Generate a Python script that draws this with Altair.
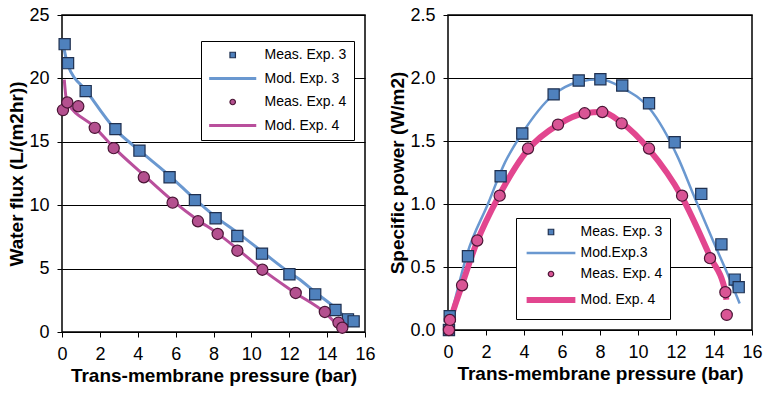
import altair as alt
import pandas as pd

# ---------------- Left panel: water flux ----------------
flux_labels = ["Meas. Exp. 3", "Mod. Exp. 3", "Meas. Exp. 4", "Mod. Exp. 4"]
flux_meas3_x = [0.14, 0.32, 1.25, 2.82, 4.09, 5.68, 7.02, 8.11, 9.26, 10.56, 12.01, 13.37, 14.44, 15.1, 15.4]
flux_meas3_y = [22.7, 21.2, 19.0, 16.0, 14.3, 12.2, 10.4, 8.97, 7.57, 6.18, 4.55, 2.97, 1.73, 1.0, 0.84]
flux_mod3_x = [0.05, 0.3, 1.3, 2.8, 4.1, 5.7, 7.0, 8.1, 9.3, 10.6, 12.0, 12.5, 13.4, 14.5, 15.35]
flux_mod3_y = [22.8, 21.1, 19.0, 16.0, 14.3, 12.3, 10.5, 9.1, 7.8, 6.3, 4.7, 4.2, 3.1, 1.8, 0.5]
flux_meas4_x = [0.05, 0.28, 0.86, 1.73, 2.73, 4.32, 5.84, 7.18, 8.22, 9.26, 10.58, 12.34, 13.88, 14.6, 14.8]
flux_meas4_y = [17.5, 18.1, 17.8, 16.1, 14.5, 12.2, 10.2, 8.73, 7.73, 6.41, 4.91, 3.08, 1.58, 0.74, 0.34]
flux_mod4_x = [0.12, 0.25, 1.7, 2.7, 4.3, 5.8, 7.2, 8.2, 9.3, 10.6, 12.3, 13.9, 14.75]
flux_mod4_y = [19.9, 18.2, 16.2, 14.6, 12.4, 10.4, 8.8, 7.8, 6.5, 4.9, 3.1, 1.5, 0.2]

# ---------------- Right panel: specific power ----------------
pow_labels = ["Meas. Exp. 3", "Mod.Exp.3", "Meas. Exp. 4", "Mod. Exp. 4"]
pow_meas3_x = [0.05, 0.09, 1.05, 2.77, 3.91, 5.56, 6.88, 8.02, 9.17, 10.58, 11.93, 13.33, 14.39, 15.09, 15.3]
pow_meas3_y = [0.0, 0.11, 0.585, 1.22, 1.56, 1.87, 1.98, 1.99, 1.94, 1.80, 1.49, 1.08, 0.68, 0.40, 0.34]
pow_mod3_x = [0.0, 0.5, 1.0, 2.1, 3.0, 3.9, 5.5, 6.9, 8.0, 9.2, 10.6, 12.1, 12.93, 14.0, 14.7, 15.35]
pow_mod3_y = [0.02, 0.32, 0.6, 1.0, 1.33, 1.56, 1.86, 1.97, 1.99, 1.92, 1.76, 1.37, 1.07, 0.69, 0.45, 0.21]
pow_meas4_x = [0.05, 0.1, 0.74, 1.54, 2.72, 4.21, 5.79, 7.19, 8.12, 9.14, 10.58, 12.32, 13.79, 14.6, 14.67]
pow_meas4_y = [0.0, 0.08, 0.355, 0.71, 1.066, 1.44, 1.63, 1.72, 1.73, 1.64, 1.44, 1.066, 0.57, 0.30, 0.12]
pow_mod4_x = [0.0, 0.1, 0.7, 1.5, 2.7, 4.2, 5.8, 7.2, 8.1, 9.1, 10.6, 12.3, 13.8, 14.6, 14.65]
pow_mod4_y = [0.0, 0.06, 0.34, 0.69, 1.07, 1.43, 1.63, 1.72, 1.73, 1.65, 1.43, 1.06, 0.58, 0.30, 0.24]

x_ticks = [0, 2, 4, 6, 8, 10, 12, 14, 16]
flux_ticks = [0, 5, 10, 15, 20, 25]
pow_ticks = [0.0, 0.5, 1.0, 1.5, 2.0, 2.5]

FONT = "Liberation Sans"


def df(xs, ys, label):
    return pd.DataFrame({"x": xs, "y": ys, "series": label})


def panel(labels, meas3, mod3, meas4, mod4, fills, strokes, widths, line_path,
          ydom, yvals, yfmt, ytitle, lx, ly, rowpad, sym_off, lab_off, w, h):
    meas = pd.concat([df(*meas3, labels[0]), df(*meas4, labels[2])])
    mods = pd.concat([df(*mod3, labels[1]), df(*mod4, labels[3])])
    leg = alt.Legend(title=None, orient="none", legendX=lx, legendY=ly,
                     fillColor="white", strokeColor="black", padding=7,
                     labelFont=FONT, labelFontSize=14, labelColor="black",
                     labelOffset=lab_off, rowPadding=rowpad, symbolSize=30,
                     symbolOffset=sym_off)
    fill_s = alt.Scale(domain=labels, range=fills)
    stroke_s = alt.Scale(domain=labels, range=strokes)
    sw_s = alt.Scale(type="ordinal", domain=labels, range=widths)
    shape_s = alt.Scale(domain=labels, range=["square", line_path, "circle", line_path])

    x = alt.X("x:Q", scale=alt.Scale(domain=[0, 16], nice=False),
              axis=alt.Axis(values=x_ticks, title="Trans-membrane pressure (bar)",
                            grid=False, labelFlush=False))
    y = alt.Y("y:Q", scale=alt.Scale(domain=ydom, nice=False),
              axis=alt.Axis(values=yvals, format=yfmt, title=ytitle, grid=True,
                            labelFlush=False))

    lines = alt.Chart(mods).mark_line(interpolate="monotone").encode(
        x=x, y=y,
        stroke=alt.Stroke("series:N", scale=stroke_s, legend=leg),
        strokeWidth=alt.StrokeWidth("series:N", scale=sw_s, legend=leg),
        detail="series:N",
    )
    pts = alt.Chart(meas).mark_point(filled=True, size=125, opacity=1).encode(
        x=x, y=y,
        fill=alt.Fill("series:N", scale=fill_s, legend=leg),
        stroke=alt.Stroke("series:N", scale=stroke_s, legend=leg),
        strokeWidth=alt.StrokeWidth("series:N", scale=sw_s, legend=leg),
        shape=alt.Shape("series:N", scale=shape_s, legend=leg),
    )
    return alt.layer(lines, pts).properties(width=w, height=h)


left = panel(
    flux_labels,
    (flux_meas3_x, flux_meas3_y), (flux_mod3_x, flux_mod3_y),
    (flux_meas4_x, flux_meas4_y), (flux_mod4_x, flux_mod4_y),
    fills=["#4f81bd", "#4f81bd", "#b4508f", "#b4508f"],
    strokes=["#1f3050", "#6a98d0", "#4a1535", "#b94f9c"],
    widths=[1.2, 3, 1.2, 3],
    line_path="M-8.6,0H8.6",
    ydom=[0, 25], yvals=flux_ticks, yfmt="d", ytitle="Water flux (L/(m2hr))",
    lx=139, ly=26, rowpad=9.5, sym_off=17.7, lab_off=24.8, w=303, h=317,
)

right = panel(
    pow_labels,
    (pow_meas3_x, pow_meas3_y), (pow_mod3_x, pow_mod3_y),
    (pow_meas4_x, pow_meas4_y), (pow_mod4_x, pow_mod4_y),
    fills=["#4f81bd", "#4f81bd", "#d95595", "#d95595"],
    strokes=["#1f3050", "#6a98d0", "#4a1535", "#e2468f"],
    widths=[1.2, 2.5, 1.2, 6],
    line_path="M-8.9,0H8.9",
    ydom=[0, 2.5], yvals=pow_ticks, yfmt=".1f", ytitle="Specific power (W/m2)",
    lx=68, ly=203, rowpad=7, sym_off=21, lab_off=22.5, w=304, h=315,
)

chart = alt.hconcat(left, right, spacing=12).resolve_scale(
    fill="independent", stroke="independent", strokeWidth="independent",
    shape="independent", x="independent", y="independent",
).resolve_legend(
    fill="independent", stroke="independent", strokeWidth="independent",
    shape="independent",
).properties(
    padding={"left": 7, "top": 5, "right": 5, "bottom": 5},
    background="white",
).configure_view(
    stroke="black", strokeWidth=1.5,
).configure_axis(
    domain=False, gridColor="black", gridWidth=1, gridOpacity=1,
    tickColor="black", tickSize=5, tickWidth=1,
    labelFont=FONT, labelFontSize=18, labelColor="black", labelPadding=8,
    titleFont=FONT, titleFontSize=19, titleFontWeight="bold", titleColor="black",
).configure_axisY(titlePadding=2).configure_axisX(titlePadding=3)

chart.save("out.html", embed_options={"renderer": "svg", "actions": False})
